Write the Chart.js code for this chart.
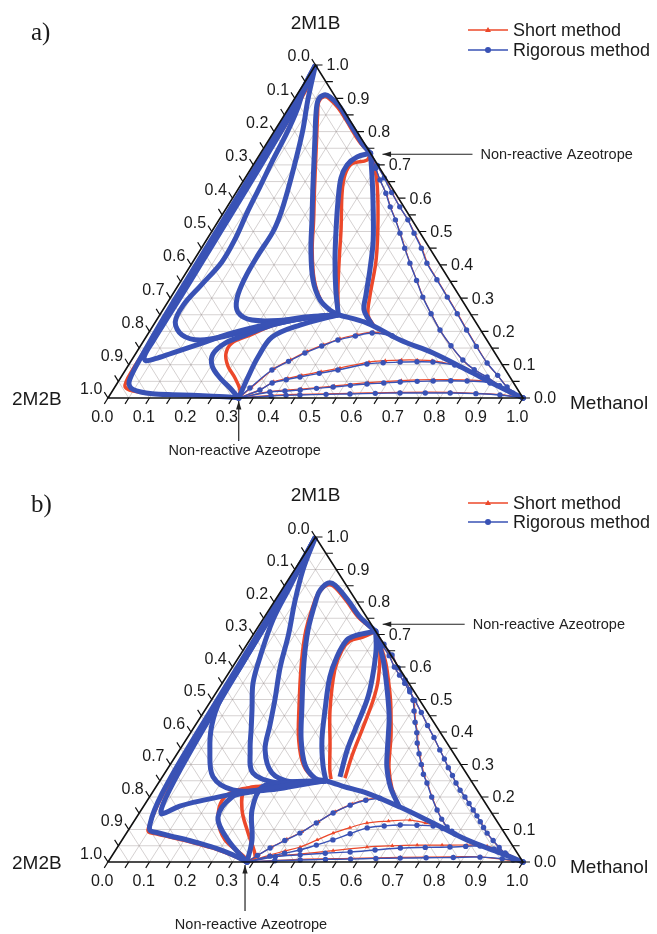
<!DOCTYPE html>
<html>
<head>
<meta charset="utf-8">
<script src="https://cdn.jsdelivr.net/npm/chart.js@4.4.0/dist/chart.umd.min.js"></script>
<style>
body { margin: 0; background: #fff; }
.panel { position: relative; width: 657px; height: 467px; }
</style>
</head>
<body>
<div class="panel"><canvas id="chartA"></canvas></div>
<div class="panel"><canvas id="chartB"></canvas></div>
<script>
// compositions are [x Methanol, x 2M1B]; x 2M2B = 1 - both
const gridSteps = [0.05, 0.1, 0.15, 0.2, 0.25, 0.3, 0.35, 0.4, 0.45, 0.5, 0.55, 0.6, 0.65, 0.7, 0.75, 0.8, 0.85, 0.9, 0.95];
const tickSteps = [0, 0.05, 0.1, 0.15, 0.2, 0.25, 0.3, 0.35, 0.4, 0.45, 0.5, 0.55, 0.6, 0.65, 0.7, 0.75, 0.8, 0.85, 0.9, 0.95, 1];
const tickValues = [0, 0.1, 0.2, 0.3, 0.4, 0.5, 0.6, 0.7, 0.8, 0.9, 1];
const tickLabels = ['0.0', '0.1', '0.2', '0.3', '0.4', '0.5', '0.6', '0.7', '0.8', '0.9', '1.0'];
const seriesNames = ['Short method', 'Rigorous method'];

// ---- panel a) ----
const azeoTopA = [0.265, 0.735];
const azeoBottomA = [0.315, 0];

const aEdgeOuter = [[0,1],[0.004,0.95],[0.006,0.9],[0.008,0.8],[0.009,0.7],[0.01,0.6],[0.011,0.5],[0.012,0.4],[0.013,0.3],[0.015,0.2],[0.018,0.13],[0.021,0.08],[0.026,0.05],[0.034,0.036],[0.047,0.026],[0.07,0.018],[0.1,0.013],[0.15,0.01],[0.2,0.008],[0.25,0.005],[0.29,0.003],[0.315,0]];
const aEdgeInner = [[0,1],[0.01,0.93],[0.015,0.85],[0.018,0.75],[0.02,0.65],[0.021,0.55],[0.022,0.45],[0.023,0.35],[0.023,0.25],[0.023,0.17],[0.025,0.125],[0.035,0.112],[0.055,0.118],[0.087,0.135],[0.15,0.168],[0.2,0.195],[0.283,0.225],[0.353,0.243],[0.43,0.25]];
const aLeftLoop = [[0,1],[0.005,0.94],[0.023,0.865],[0.033,0.796],[0.04,0.715],[0.049,0.634],[0.057,0.556],[0.068,0.474],[0.07,0.408],[0.055,0.339],[0.042,0.279],[0.048,0.228],[0.084,0.189],[0.135,0.174],[0.2,0.189],[0.281,0.219],[0.355,0.24],[0.43,0.25]];
const aMidLoop = [[0,1],[0.034,0.895],[0.067,0.805],[0.095,0.715],[0.121,0.625],[0.14,0.55],[0.148,0.498],[0.147,0.429],[0.15,0.36],[0.161,0.3],[0.184,0.258],[0.23,0.234],[0.31,0.234],[0.377,0.243],[0.43,0.25]];
const aTopLoop = [[0.265,0.735],[0.235,0.76],[0.205,0.79],[0.16,0.835],[0.122,0.874],[0.083,0.904],[0.066,0.91],[0.059,0.895],[0.076,0.85],[0.104,0.79],[0.139,0.715],[0.181,0.625],[0.224,0.535],[0.267,0.444],[0.317,0.354],[0.364,0.294],[0.403,0.264],[0.43,0.25]];
const aAzeoLoop = [[0.265,0.735],[0.238,0.724],[0.226,0.7],[0.231,0.661],[0.257,0.595],[0.297,0.505],[0.34,0.414],[0.387,0.324],[0.43,0.25]];
const aAzeoDown = [[0.265,0.735],[0.301,0.67],[0.341,0.595],[0.402,0.474],[0.439,0.384],[0.467,0.309],[0.485,0.264],[0.527,0.219]];
const aSeparatrix = [[0.43,0.25],[0.512,0.225],[0.617,0.174],[0.716,0.135],[0.823,0.084],[0.928,0.033],[1,0]];
const aRiseA2 = [[0.315,0],[0.279,0.03],[0.24,0.06],[0.203,0.096],[0.187,0.132],[0.2,0.165],[0.236,0.189],[0.286,0.219],[0.355,0.24],[0.43,0.25]];
const aRise2 = [[0.315,0],[0.306,0.063],[0.3,0.123],[0.304,0.183],[0.353,0.219],[0.43,0.25]];
const aAzeoRight1 = [[0.265,0.735],[0.3,0.69],[0.328,0.655],[0.362,0.615],[0.393,0.574],[0.425,0.535],[0.456,0.495],[0.49,0.45],[0.525,0.405],[0.567,0.353],[0.607,0.303],[0.652,0.253],[0.698,0.204],[0.748,0.157],[0.798,0.114],[0.84,0.085],[0.882,0.063],[0.925,0.037],[0.968,0.015],[1,0]];
const aAzeoRight2 = [[0.265,0.735],[0.3,0.698],[0.335,0.661],[0.375,0.617],[0.416,0.574],[0.455,0.535],[0.49,0.495],[0.53,0.45],[0.566,0.405],[0.615,0.355],[0.666,0.303],[0.715,0.253],[0.762,0.204],[0.81,0.155],[0.861,0.105],[0.905,0.068],[0.945,0.033],[1,0]];
const aFan1 = [[0.315,0],[0.327,0.03],[0.353,0.084],[0.38,0.11],[0.407,0.135],[0.437,0.156],[0.467,0.174],[0.503,0.186],[0.539,0.195],[0.591,0.187]];
const aFan2 = [[0.315,0],[0.354,0.024],[0.373,0.045],[0.402,0.055],[0.431,0.063],[0.472,0.074],[0.512,0.084],[0.573,0.102],[0.61,0.106],[0.65,0.108],[0.69,0.109],[0.729,0.108],[0.786,0.099]];
const aFan3 = [[0.315,0],[0.381,0.018],[0.416,0.021],[0.451,0.024],[0.488,0.029],[0.526,0.033],[0.565,0.038],[0.603,0.042],[0.642,0.045],[0.68,0.048],[0.72,0.05],[0.758,0.051],[0.8,0.052],[0.84,0.051],[0.898,0.045],[0.96,0.018],[1,0]];
const aFan4 = [[0.315,0],[0.39,0.006],[0.425,0.008],[0.458,0.009],[0.52,0.011],[0.577,0.012],[0.637,0.014],[0.696,0.015],[0.757,0.015],[0.817,0.015],[0.88,0.013],[0.94,0.009],[1,0]];

const aEdgeOuterS = [[0,1],[0.012,0.95],[0.016,0.9],[0.018,0.8],[0.018,0.7],[0.019,0.6],[0.019,0.5],[0.019,0.4],[0.018,0.3],[0.018,0.2],[0.017,0.13],[0.017,0.08],[0.019,0.05],[0.024,0.034],[0.04,0.024],[0.07,0.017],[0.1,0.013],[0.15,0.01],[0.2,0.008],[0.25,0.005],[0.29,0.003],[0.315,0]];
const aTopLoopS = [[0.265,0.735],[0.232,0.76],[0.2,0.79],[0.156,0.835],[0.118,0.872],[0.082,0.9],[0.068,0.905],[0.063,0.89],[0.08,0.85],[0.108,0.79],[0.143,0.715],[0.185,0.625],[0.228,0.535],[0.27,0.444],[0.32,0.354],[0.366,0.294],[0.405,0.262],[0.43,0.25]];
const aAzeoLoopS = [[0.265,0.735],[0.267,0.715],[0.236,0.703],[0.236,0.67],[0.256,0.616],[0.309,0.505],[0.35,0.414],[0.392,0.324],[0.43,0.25]];
const aAzeoDownS = [[0.265,0.735],[0.32,0.655],[0.383,0.535],[0.439,0.414],[0.477,0.309],[0.502,0.249],[0.533,0.216]];
const aRiseA2S = [[0.315,0],[0.306,0.024],[0.276,0.06],[0.241,0.096],[0.218,0.132],[0.216,0.165],[0.248,0.189],[0.29,0.219],[0.357,0.24],[0.43,0.25]];
const aAzeoRight1S = [[0.265,0.735],[0.302,0.688],[0.33,0.652],[0.365,0.612],[0.396,0.571],[0.428,0.532],[0.459,0.492],[0.493,0.447],[0.528,0.402],[0.57,0.35],[0.61,0.3],[0.655,0.25],[0.701,0.201],[0.75,0.155],[0.8,0.112],[0.843,0.083],[0.885,0.061],[0.927,0.036],[0.97,0.014],[1,0]];
const aAzeoRight2S = [[0.265,0.735],[0.302,0.696],[0.338,0.659],[0.378,0.615],[0.418,0.572],[0.457,0.533],[0.493,0.493],[0.533,0.448],[0.569,0.403],[0.618,0.353],[0.669,0.301],[0.718,0.251],[0.765,0.202],[0.813,0.153],[0.863,0.103],[0.907,0.066],[0.947,0.032],[1,0]];
const aFan1S = [[0.315,0],[0.33,0.032],[0.356,0.088],[0.383,0.115],[0.41,0.14],[0.44,0.16],[0.47,0.178],[0.505,0.19],[0.54,0.198],[0.591,0.187]];
const aFan2S = [[0.315,0],[0.355,0.026],[0.375,0.049],[0.404,0.059],[0.433,0.068],[0.474,0.079],[0.514,0.09],[0.575,0.108],[0.612,0.112],[0.65,0.114],[0.688,0.114],[0.725,0.112],[0.786,0.1]];
const aFan3S = [[0.315,0],[0.382,0.02],[0.452,0.027],[0.527,0.036],[0.604,0.046],[0.681,0.052],[0.758,0.055],[0.838,0.054],[0.896,0.047],[0.96,0.019],[1,0]];
const aFan4S = [[0.315,0],[0.39,0.008],[0.458,0.011],[0.577,0.014],[0.696,0.017],[0.817,0.017],[0.94,0.01],[1,0]];

// ---- panel b) ----
const azeoTopB = [0.29, 0.71];
const azeoBottomB = [0.335, 0];

const bEdgeOuter = [[0,1],[0.005,0.93],[0.007,0.85],[0.009,0.75],[0.011,0.65],[0.013,0.55],[0.015,0.45],[0.017,0.36],[0.02,0.28],[0.025,0.21],[0.032,0.16],[0.042,0.12],[0.052,0.098],[0.075,0.09],[0.11,0.08],[0.15,0.07],[0.19,0.058],[0.24,0.042],[0.29,0.022],[0.335,0]];
const bEdgeInner = [[0,1],[0.008,0.92],[0.012,0.83],[0.015,0.73],[0.018,0.63],[0.021,0.53],[0.024,0.44],[0.028,0.35],[0.033,0.27],[0.04,0.2],[0.048,0.16],[0.056,0.148],[0.087,0.172],[0.138,0.191],[0.207,0.212],[0.281,0.228],[0.352,0.246],[0.4,0.25]];
const bNearEdge = [[0,1],[0.006,0.9],[0.012,0.8],[0.016,0.7],[0.019,0.6],[0.021,0.5],[0.04,0.42],[0.073,0.345],[0.122,0.262],[0.19,0.222],[0.279,0.222],[0.344,0.237],[0.4,0.25]];
const bLeftLoop = [[0,1],[0.004,0.951],[0.015,0.846],[0.025,0.745],[0.051,0.631],[0.074,0.551],[0.113,0.468],[0.14,0.41],[0.17,0.345],[0.212,0.274],[0.286,0.243],[0.352,0.246],[0.4,0.25]];
const bMidLoop = [[0,1],[0.02,0.9],[0.05,0.8],[0.085,0.7],[0.115,0.6],[0.153,0.498],[0.18,0.42],[0.206,0.345],[0.258,0.274],[0.32,0.246],[0.4,0.25]];
const bTopLoop = [[0.29,0.71],[0.23,0.754],[0.175,0.806],[0.121,0.852],[0.101,0.858],[0.093,0.837],[0.096,0.815],[0.125,0.714],[0.166,0.612],[0.233,0.468],[0.278,0.375],[0.326,0.298],[0.37,0.258],[0.4,0.25]];
const bAzeoLoop = [[0.29,0.71],[0.251,0.698],[0.234,0.683],[0.236,0.631],[0.25,0.569],[0.289,0.468],[0.328,0.375],[0.369,0.298],[0.4,0.25]];
const bAzeoDown1 = [[0.29,0.71],[0.32,0.652],[0.356,0.56],[0.375,0.498],[0.392,0.406],[0.404,0.345],[0.428,0.262]];
const bAzeoDown2 = [[0.29,0.71],[0.352,0.622],[0.39,0.56],[0.426,0.498],[0.455,0.445],[0.48,0.391],[0.503,0.34],[0.526,0.292],[0.565,0.231],[0.615,0.172]];
const bSeparatrix = [[0.4,0.25],[0.45,0.233],[0.518,0.212],[0.619,0.169],[0.723,0.12],[0.831,0.068],[0.931,0.028],[1,0]];
const bRise1 = [[0.335,0],[0.313,0.068],[0.267,0.16],[0.256,0.231],[0.304,0.246],[0.4,0.25]];
const bRise2 = [[0.335,0],[0.255,0.068],[0.196,0.138],[0.199,0.2],[0.235,0.215],[0.3,0.235],[0.4,0.25]];
const bAzeoDown3 = [[0.29,0.71],[0.33,0.67],[0.366,0.637],[0.4,0.598],[0.436,0.56],[0.462,0.53],[0.486,0.498],[0.505,0.465],[0.525,0.43],[0.545,0.398],[0.562,0.366],[0.583,0.333],[0.605,0.3],[0.625,0.27],[0.647,0.243],[0.68,0.2],[0.713,0.16],[0.738,0.132],[0.763,0.108],[0.793,0.086]];
const bAzeoDown4 = [[0.29,0.71],[0.33,0.665],[0.36,0.635],[0.39,0.6],[0.415,0.575],[0.44,0.55],[0.465,0.524],[0.49,0.498],[0.525,0.46],[0.56,0.42],[0.594,0.383],[0.627,0.345],[0.652,0.317],[0.675,0.29],[0.697,0.266],[0.717,0.243],[0.738,0.221],[0.76,0.2],[0.78,0.18],[0.8,0.16],[0.818,0.142],[0.835,0.124],[0.852,0.106],[0.869,0.089],[0.895,0.066],[0.92,0.045],[0.947,0.024],[0.973,0.006],[1,0]];
const bFan1 = [[0.335,0],[0.35,0.02],[0.369,0.043],[0.393,0.066],[0.418,0.089],[0.442,0.12],[0.467,0.151],[0.496,0.175],[0.526,0.19],[0.557,0.196]];
const bFan2 = [[0.335,0],[0.381,0.018],[0.412,0.027],[0.444,0.037],[0.476,0.052],[0.508,0.068],[0.54,0.087],[0.572,0.105],[0.61,0.111],[0.647,0.114],[0.688,0.113],[0.728,0.111],[0.755,0.103],[0.781,0.095]];
const bFan3 = [[0.335,0],[0.395,0.016],[0.452,0.022],[0.51,0.027],[0.568,0.031],[0.625,0.037],[0.683,0.043],[0.742,0.045],[0.801,0.046],[0.838,0.048],[0.872,0.049],[0.91,0.04],[0.943,0.028],[1,0]];
const bFan4 = [[0.335,0],[0.4,0.004],[0.46,0.006],[0.52,0.008],[0.58,0.009],[0.64,0.011],[0.698,0.012],[0.76,0.013],[0.825,0.014],[0.889,0.015],[0.945,0.01],[1,0]];

const bEdgeOuterS = [[0,1],[0.008,0.93],[0.011,0.85],[0.013,0.75],[0.015,0.65],[0.017,0.55],[0.019,0.45],[0.021,0.36],[0.024,0.28],[0.028,0.21],[0.034,0.16],[0.042,0.118],[0.05,0.094],[0.075,0.086],[0.11,0.077],[0.15,0.067],[0.19,0.055],[0.24,0.04],[0.29,0.02],[0.335,0]];
const bTopLoopS = [[0.29,0.71],[0.228,0.752],[0.172,0.804],[0.12,0.848],[0.102,0.852],[0.094,0.832],[0.095,0.81],[0.12,0.714],[0.16,0.612],[0.226,0.468],[0.272,0.375],[0.322,0.298],[0.368,0.258],[0.4,0.25]];
const bAzeoLoopS = [[0.29,0.71],[0.268,0.692],[0.243,0.68],[0.238,0.652],[0.251,0.591],[0.301,0.468],[0.355,0.36],[0.393,0.283],[0.41,0.255]];
const bAzeoDown1S = [[0.29,0.71],[0.329,0.652],[0.371,0.56],[0.39,0.498],[0.409,0.406],[0.424,0.329],[0.442,0.258]];
const bAzeoDown2S = [[0.29,0.71],[0.358,0.62],[0.398,0.556],[0.434,0.494],[0.462,0.44],[0.488,0.388],[0.51,0.338],[0.532,0.29],[0.57,0.228],[0.615,0.172]];
const bRise1S = [[0.335,0],[0.347,0.015],[0.293,0.089],[0.243,0.16],[0.219,0.222],[0.273,0.234],[0.4,0.25]];
const bRise2S = [[0.335,0],[0.322,0.015],[0.248,0.068],[0.201,0.129],[0.18,0.191],[0.202,0.222],[0.28,0.235],[0.4,0.25]];
const bAzeoDown3S = [[0.29,0.71],[0.334,0.666],[0.37,0.633],[0.404,0.594],[0.44,0.556],[0.466,0.526],[0.49,0.494],[0.509,0.461],[0.529,0.426],[0.549,0.394],[0.566,0.362],[0.587,0.329],[0.609,0.296],[0.629,0.266],[0.651,0.239],[0.684,0.196],[0.716,0.157],[0.741,0.129],[0.765,0.106],[0.793,0.086]];
const bAzeoDown4S = [[0.29,0.71],[0.333,0.662],[0.363,0.632],[0.393,0.597],[0.443,0.547],[0.493,0.495],[0.563,0.417],[0.63,0.342],[0.678,0.287],[0.72,0.24],[0.763,0.197],[0.803,0.157],[0.838,0.121],[0.872,0.086],[0.922,0.043],[0.974,0.005],[1,0]];
const bFan1S = [[0.335,0],[0.352,0.022],[0.372,0.046],[0.396,0.07],[0.421,0.093],[0.445,0.124],[0.47,0.155],[0.499,0.179],[0.528,0.193],[0.557,0.196]];
const bFan2S = [[0.335,0],[0.38,0.022],[0.41,0.034],[0.44,0.046],[0.47,0.068],[0.498,0.089],[0.53,0.106],[0.564,0.12],[0.613,0.126],[0.663,0.129],[0.705,0.12],[0.746,0.108],[0.781,0.094]];
const bFan3S = [[0.335,0],[0.395,0.018],[0.45,0.024],[0.525,0.035],[0.601,0.046],[0.66,0.05],[0.719,0.052],[0.779,0.052],[0.839,0.052],[0.889,0.049],[0.945,0.028],[1,0]];
const bFan4S = [[0.335,0],[0.46,0.008],[0.58,0.011],[0.698,0.014],[0.825,0.016],[0.889,0.016],[1,0]];

const BLUE = 'rgb(57, 82, 181)';
const RED = 'rgb(236, 72, 42)';
const FONT = 'Arial, "Liberation Sans", sans-serif';

function toXY(chart, m, b) {
    return {
        x: chart.scales.x.getPixelForValue(m + b / 2),
        y: chart.scales.y.getPixelForValue(b)
    };
}

function curveData(curve) {
    return curve.map(p => ({ x: p[0] + p[1] / 2, y: p[1] }));
}

function buildDatasets(denseRig, sparseRig, denseShort, sparseShort) {
    const sets = [];
    const base = { showLine: true, clip: false, tension: 0.35 };
    denseRig.forEach(c => sets.push({ ...base, label: seriesNames[1], data: curveData(c), borderColor: BLUE, borderWidth: 5, pointRadius: 0, order: 0 }));
    sparseRig.forEach(c => sets.push({ ...base, label: seriesNames[1], data: curveData(c), borderColor: BLUE, borderWidth: 1.4, pointRadius: 2.7, pointBorderWidth: 0, pointBackgroundColor: BLUE, order: 0 }));
    denseShort.forEach(c => sets.push({ ...base, label: seriesNames[0], data: curveData(c), borderColor: RED, borderWidth: 3.5, pointRadius: 0, order: 1 }));
    sparseShort.forEach(c => sets.push({ ...base, label: seriesNames[0], data: curveData(c), borderColor: RED, borderWidth: 1.2, pointRadius: 2.4, pointStyle: 'triangle', pointBorderWidth: 0, pointBackgroundColor: RED, order: 1 }));
    return sets;
}

function arrow(ctx, x1, y1, x2, y2) {
    // line from (x1,y1) with head at (x2,y2)
    const ang = Math.atan2(y2 - y1, x2 - x1);
    ctx.beginPath();
    ctx.moveTo(x1, y1);
    ctx.lineTo(x2, y2);
    ctx.stroke();
    ctx.beginPath();
    ctx.moveTo(x2, y2);
    ctx.lineTo(x2 - 9 * Math.cos(ang - 0.3), y2 - 9 * Math.sin(ang - 0.3));
    ctx.lineTo(x2 - 9 * Math.cos(ang + 0.3), y2 - 9 * Math.sin(ang + 0.3));
    ctx.closePath();
    ctx.fill();
}

const ternaryAxes = {
    id: 'ternaryAxes',
    beforeDatasetsDraw(chart) {
        const ctx = chart.ctx;
        ctx.save();
        ctx.strokeStyle = 'rgba(150, 140, 140, 0.5)';
        ctx.lineWidth = 0.8;
        ctx.beginPath();
        gridSteps.forEach(v => {
            let p = toXY(chart, 0, v), q = toXY(chart, 1 - v, v);
            ctx.moveTo(p.x, p.y); ctx.lineTo(q.x, q.y);
            p = toXY(chart, v, 0); q = toXY(chart, v, 1 - v);
            ctx.moveTo(p.x, p.y); ctx.lineTo(q.x, q.y);
            p = toXY(chart, 1 - v, 0); q = toXY(chart, 0, 1 - v);
            ctx.moveTo(p.x, p.y); ctx.lineTo(q.x, q.y);
        });
        ctx.stroke();
        ctx.restore();
    },
    afterDatasetsDraw(chart, args, opts) {
        const ctx = chart.ctx;
        const T = toXY(chart, 0, 1), L = toXY(chart, 0, 0), R = toXY(chart, 1, 0);
        ctx.save();

        // frame
        ctx.strokeStyle = '#111';
        ctx.lineWidth = 1.6;
        ctx.beginPath();
        ctx.moveTo(L.x, L.y); ctx.lineTo(R.x, R.y); ctx.lineTo(T.x, T.y); ctx.closePath();
        ctx.stroke();

        // ticks, 7px along the grid direction
        function tickEnd(p, q) {
            const dx = p.x - q.x, dy = p.y - q.y, len = Math.hypot(dx, dy);
            return { x: p.x + 7 * dx / len, y: p.y + 7 * dy / len };
        }
        ctx.lineWidth = 1.2;
        ctx.beginPath();
        tickSteps.forEach(v => {
            let p = toXY(chart, v, 0), e = tickEnd(p, toXY(chart, v, 0.1));
            ctx.moveTo(p.x, p.y); ctx.lineTo(e.x, e.y);
            p = toXY(chart, 1 - v, v); e = tickEnd(p, toXY(chart, 0.9 - v, v));
            ctx.moveTo(p.x, p.y); ctx.lineTo(e.x, e.y);
            p = toXY(chart, 0, 1 - v); e = tickEnd(p, toXY(chart, 0.1, 0.9 - v));
            ctx.moveTo(p.x, p.y); ctx.lineTo(e.x, e.y);
        });
        ctx.stroke();

        ctx.fillStyle = '#1a1a1a';
        ctx.font = '16px ' + FONT;
        tickValues.forEach((v, i) => {
            let p = toXY(chart, v, 0), e = tickEnd(p, toXY(chart, v, 0.1));
            ctx.textAlign = 'center'; ctx.textBaseline = 'top';
            ctx.fillText(tickLabels[i], e.x - 2, e.y + 6);
            p = toXY(chart, 1 - v, v); e = tickEnd(p, toXY(chart, 0.9 - v, v));
            ctx.textAlign = 'left'; ctx.textBaseline = 'middle';
            ctx.fillText(tickLabels[i], e.x + 4, e.y + 1);
            p = toXY(chart, 0, 1 - v); e = tickEnd(p, toXY(chart, 0.1, 0.9 - v));
            ctx.textAlign = 'right'; ctx.textBaseline = 'middle';
            ctx.fillText(tickLabels[i], e.x - 2, e.y - 2);
        });

        // component names
        ctx.font = '19px ' + FONT;
        ctx.textAlign = 'center'; ctx.textBaseline = 'middle';
        ctx.fillText('2M1B', T.x, T.y - 41);
        ctx.textAlign = 'left';
        ctx.fillText('2M2B', 12, L.y + 2);
        ctx.fillText('Methanol', R.x + 47, R.y + 6);

        // panel letter
        ctx.font = '25px "Liberation Serif", "Times New Roman", serif';
        ctx.fillText(opts.letter, 31, opts.letterY);

        // legend
        ctx.font = '18px ' + FONT;
        [RED, BLUE].forEach((col, i) => {
            const y = opts.legendY[i];
            ctx.strokeStyle = col; ctx.fillStyle = col; ctx.lineWidth = 1.5;
            ctx.beginPath(); ctx.moveTo(468, y); ctx.lineTo(508, y); ctx.stroke();
            ctx.beginPath();
            if (i === 0) {
                ctx.moveTo(488, y - 3); ctx.lineTo(491, y + 2); ctx.lineTo(485, y + 2); ctx.closePath();
            } else {
                ctx.arc(488, y, 3, 0, Math.PI * 2);
            }
            ctx.fill();
            ctx.fillStyle = '#1a1a1a';
            ctx.fillText(seriesNames[i], 513, y + 1);
        });

        // azeotrope pointers
        ctx.strokeStyle = '#222'; ctx.fillStyle = '#222'; ctx.lineWidth = 1.2;
        ctx.font = '14.5px ' + FONT;
        const A1 = toXY(chart, opts.azeoTop[0], opts.azeoTop[1]);
        const tipY = A1.y + opts.topDy;
        arrow(ctx, A1.x + opts.tailDx, tipY, A1.x + opts.tipDx, tipY);
        ctx.textAlign = 'left';
        ctx.fillText('Non-reactive Azeotrope', A1.x + opts.textDx, tipY + 1);
        const A2 = toXY(chart, opts.azeoBottom[0], opts.azeoBottom[1]);
        arrow(ctx, A2.x + opts.bottomDx, A2.y + opts.tail, A2.x + opts.bottomDx, A2.y + 3);
        ctx.textAlign = 'center';
        ctx.fillText('Non-reactive Azeotrope', A2.x + opts.bottomDx + 6, A2.y + opts.tail + opts.textGap);

        ctx.restore();
    }
};

function makeChart(id, datasets, padding, opts) {
    const ctx = document.getElementById(id).getContext('2d');
    return new Chart(ctx, {
        type: 'scatter',
        data: { datasets: datasets },
        options: {
            responsive: true,
            maintainAspectRatio: false,
            animation: false,
            events: [],
            layout: { padding: padding },
            plugins: {
                legend: { display: false },
                tooltip: { enabled: false },
                ternaryAxes: opts
            },
            scales: {
                x: { type: 'linear', min: 0, max: 1, display: false },
                y: { type: 'linear', min: 0, max: 1, display: false }
            }
        },
        plugins: [ternaryAxes]
    });
}

makeChart('chartA',
    buildDatasets(
        [aEdgeOuter, aEdgeInner, aLeftLoop, aMidLoop, aTopLoop, aAzeoLoop, aAzeoDown, aSeparatrix, aRiseA2, aRise2],
        [aAzeoRight1, aAzeoRight2, aFan1, aFan2, aFan3, aFan4],
        [aEdgeOuterS, aTopLoopS, aAzeoLoopS, aAzeoDownS, aRiseA2S],
        [aAzeoRight1S, aAzeoRight2S, aFan1S, aFan2S, aFan3S, aFan4S]),
    { left: 108, right: 134, top: 65, bottom: 69 },
    { letter: 'a)', letterY: 33, legendY: [30, 50], azeoTop: azeoTopA, azeoBottom: azeoBottomA,
      topDy: 1, tipDx: 12, tailDx: 102, textDx: 110, bottomDx: 0, tail: 43, textGap: 10 });

makeChart('chartB',
    buildDatasets(
        [bEdgeOuter, bEdgeInner, bNearEdge, bLeftLoop, bMidLoop, bTopLoop, bAzeoLoop, bAzeoDown1, bAzeoDown2, bSeparatrix, bRise1, bRise2],
        [bAzeoDown3, bAzeoDown4, bFan1, bFan2, bFan3, bFan4],
        [bEdgeOuterS, bTopLoopS, bAzeoLoopS, bAzeoDown1S, bAzeoDown2S, bRise1S, bRise2S],
        [bAzeoDown3S, bAzeoDown4S, bFan1S, bFan2S, bFan3S, bFan4S]),
    { left: 108, right: 134, top: 70, bottom: 72 },
    { letter: 'b)', letterY: 38, legendY: [36, 55], azeoTop: azeoTopB, azeoBottom: azeoBottomB,
      topDy: -7, tipDx: 7, tailDx: 89, textDx: 97, bottomDx: -2, tail: 49, textGap: 14 });
</script>
</body>
</html>
